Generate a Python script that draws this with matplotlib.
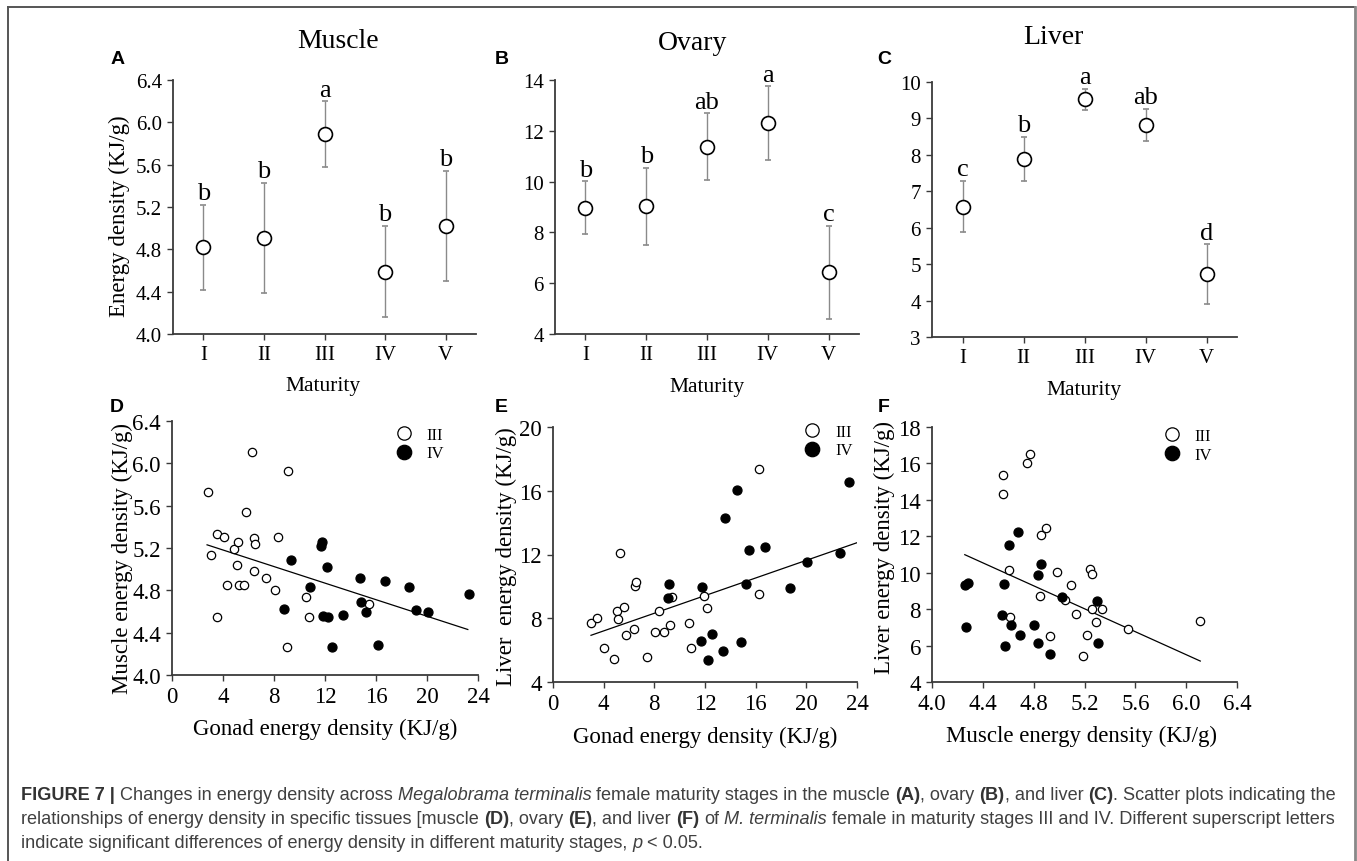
import numpy as np
import matplotlib.pyplot as plt
from matplotlib.lines import Line2D

plt.rcParams['font.family'] = 'Liberation Serif'

W, H = 1357, 862

#========================================================
# data
stages = ['I', 'II', 'III', 'IV', 'V']

muscle_mean = [4.82, 4.91, 5.89, 4.59, 5.02]
muscle_err = [0.40, 0.52, 0.31, 0.43, 0.52]
muscle_sig = ['b', 'b', 'a', 'b', 'b']

ovary_mean = [8.97, 9.03, 11.37, 12.31, 6.43]
ovary_err = [1.04, 1.52, 1.32, 1.45, 1.83]
ovary_sig = ['b', 'b', 'ab', 'a', 'c']

liver_mean = [6.58, 7.88, 9.52, 8.83, 4.72]
liver_err = [0.71, 0.61, 0.30, 0.44, 0.82]
liver_sig = ['c', 'b', 'a', 'ab', 'd']

# D: gonad vs muscle
d_iii_x = [2.80, 3.03, 3.53, 3.56, 4.05, 4.31, 4.86, 5.18, 5.07, 5.25, 5.65, 5.80,
           6.25, 6.41, 6.51, 6.46, 7.37, 8.05, 8.34, 9.12, 9.05, 10.51, 10.75, 15.45]
d_iii_y = [5.73, 5.13, 5.33, 4.55, 5.30, 4.85, 5.19, 5.26, 5.04, 4.85, 4.85, 5.54,
           6.11, 5.29, 5.24, 4.98, 4.92, 4.80, 5.30, 5.93, 4.26, 4.74, 4.55, 4.67]
d_iv_x = [8.76, 9.36, 10.82, 11.76, 11.66, 12.13, 11.84, 12.26, 12.55, 13.39, 14.77,
          14.80, 15.19, 16.18, 16.68, 18.61, 19.16, 20.05, 23.3]
d_iv_y = [4.62, 5.09, 4.83, 5.26, 5.22, 5.02, 4.56, 4.55, 4.26, 4.57, 4.92,
          4.69, 4.60, 4.28, 4.89, 4.83, 4.61, 4.60, 4.77]
d_fit_x = [2.75, 23.2]
d_fit_y = [5.23, 4.43]

# E: gonad vs liver
e_iii_x = [3.00, 3.50, 4.03, 4.84, 5.05, 5.13, 5.29, 5.61, 5.79, 6.39, 6.45, 6.53,
           7.39, 8.03, 8.34, 8.76, 9.24, 9.37, 10.76, 10.87, 11.89, 12.16, 16.26, 16.24]
e_iii_y = [7.72, 8.04, 6.13, 5.46, 8.48, 7.97, 12.07, 8.73, 6.93, 7.33, 10.04, 10.27,
           5.55, 7.14, 8.43, 7.14, 7.58, 9.35, 7.68, 6.13, 9.40, 8.64, 9.50, 17.34]
e_iv_x = [9.05, 9.16, 11.76, 11.66, 12.26, 12.55, 13.39, 13.55, 14.50, 14.84, 15.21,
          15.45, 16.71, 18.68, 20.08, 22.68, 23.37]
e_iv_y = [9.29, 10.13, 9.94, 6.57, 5.38, 7.01, 5.95, 14.31, 16.03, 6.53, 10.17,
          12.26, 12.49, 9.90, 11.53, 12.07, 16.53]
e_fit_x = [3.0, 24.0]
e_fit_y = [6.93, 12.74]

# F: muscle vs liver
f_iii_x = [4.558, 4.558, 4.747, 4.771, 4.608, 4.613, 4.850, 4.858, 4.900, 4.929, 4.982,
           5.050, 5.092, 5.134, 5.189, 5.218, 5.245, 5.261, 5.258, 5.289, 5.337, 5.542, 6.111]
f_iii_y = [15.38, 14.34, 16.01, 16.54, 10.17, 7.59, 8.72, 12.05, 12.47, 6.51, 10.04,
           8.48, 9.34, 7.72, 5.45, 6.58, 10.22, 9.95, 7.99, 7.31, 8.03, 6.93, 7.33]
f_iv_x = [4.261, 4.284, 4.268, 4.566, 4.550, 4.576, 4.605, 4.621, 4.679, 4.692, 4.800,
          4.834, 4.834, 4.858, 4.932, 5.021, 5.300, 5.308]
f_iv_y = [9.31, 9.44, 7.02, 9.40, 7.66, 5.96, 11.52, 7.11, 12.25, 6.58, 7.13,
          9.89, 6.12, 10.50, 5.56, 8.65, 8.43, 6.12]
f_fit_x = [4.258, 6.111]
f_fit_y = [10.99, 5.15]
#========================================================

fig = plt.figure(figsize=(W / 100, H / 100), dpi=100)


def fy(py):
    return 1 - py / H


def add_ax(l, t, r, b):
    ax = fig.add_axes([l / W, 1 - b / H, (r - l) / W, (b - t) / H])
    for s in ['top', 'right']:
        ax.spines[s].set_visible(False)
    for s in ['left', 'bottom']:
        ax.spines[s].set_color('#3a3a3a')
        ax.spines[s].set_linewidth(1.3)
    ax.tick_params(direction='out', length=4.5, width=1, color='#3a3a3a')
    return ax


def ftext(px, py, s, **kw):
    fig.text(px / W, fy(py), s, ha='center', va='center', **kw)


# ---- top row: mean +/- error by maturity stage
top = [
    (muscle_mean, muscle_err, muscle_sig, (173, 81, 476, 335), (4.0, 6.4), np.arange(4.0, 6.41, 0.4), '%.1f'),
    (ovary_mean, ovary_err, ovary_sig, (555, 81, 859, 335), (4, 14), np.arange(4, 15, 2), '%d'),
    (liver_mean, liver_err, liver_sig, (932, 83, 1237, 338), (3, 10), np.arange(3, 11, 1), '%d'),
]
pos = np.arange(1, 6)
for mean, err, sig, box, ylim, yt, fmt in top:
    ax = add_ax(*box)
    ax.errorbar(pos, mean, yerr=err, fmt='o', ms=10, mfc='white', mec='black', mew=1.2,
                ecolor='#8a8a8a', elinewidth=1, capsize=2, capthick=1)
    for x, m, e, s in zip(pos, mean, err, sig):
        ax.annotate(s, (x, m + e), xytext=(0, 4), textcoords='offset points',
                    ha='center', va='baseline', fontsize=19)
    ax.set_xlim(0.5, 5.5)
    ax.set_ylim(*ylim)
    ax.set_xticks(pos)
    ax.set_xticklabels(stages, fontsize=15)
    ax.set_yticks(yt)
    ax.set_yticklabels([fmt % v for v in yt], fontsize=15)

ftext(338, 42, 'Muscle', fontsize=20)
ftext(693, 43, 'Ovary', fontsize=20)
ftext(1053, 38, 'Liver', fontsize=20)
for px, py in [(323, 387), (707, 388), (1084, 390)]:
    ftext(px, py, 'Maturity', fontsize=15.5)
ftext(119, 216, 'Energy density (KJ/g)', fontsize=16.5, rotation=90)

# ---- bottom row: scatter plots
bottom = [
    (d_iii_x, d_iii_y, d_iv_x, d_iv_y, d_fit_x, d_fit_y, (172, 422, 478, 676),
     (0, 24), (4.0, 6.4), np.arange(0, 25, 4), np.arange(4.0, 6.41, 0.4), '%d', '%.1f', (396, 428, 0.8)),
    (e_iii_x, e_iii_y, e_iv_x, e_iv_y, e_fit_x, e_fit_y, (553, 428, 857, 683),
     (0, 24), (4, 20), np.arange(0, 25, 4), np.arange(4, 21, 4), '%d', '%d', (804, 425, 0.875)),
    (f_iii_x, f_iii_y, f_iv_x, f_iv_y, f_fit_x, f_fit_y, (932, 428, 1237, 683),
     (4.0, 6.4), (4, 18), np.arange(4.0, 6.41, 0.4), np.arange(4, 19, 2), '%.1f', '%d', (1164, 429, 0.8)),
]
for x3, y3, x4, y4, lx, ly, box, xlim, ylim, xt, yt, xf, yf, leg in bottom:
    ax = add_ax(*box)
    ax.plot(lx, ly, color='black', lw=0.9, zorder=1)
    ax.plot(x3, y3, 'o', ms=6, mfc='white', mec='black', mew=0.9, label='III', zorder=3)
    ax.plot(x4, y4, 'o', ms=6.5, mfc='black', mec='black', mew=0.9, label='IV', zorder=3)
    ax.set_xlim(*xlim)
    ax.set_ylim(*ylim)
    ax.set_xticks(xt)
    ax.set_xticklabels([xf % v for v in xt], fontsize=16.5)
    ax.set_yticks(yt)
    ax.set_yticklabels([yf % v for v in yt], fontsize=16.5)
    lx0, ly0, pad = leg
    ax.legend(loc='upper left', bbox_to_anchor=(lx0 / W, fy(ly0)), bbox_transform=fig.transFigure,
              frameon=False, fontsize=12, handlelength=1.0, handletextpad=pad,
              labelspacing=0.15, borderpad=0, borderaxespad=0, markerscale=1.6)

ftext(122, 559, 'Muscle energy density (KJ/g)', fontsize=16.5, rotation=90)
ftext(506, 557, 'Liver  energy density (KJ/g)', fontsize=16.5, rotation=90)
ftext(884, 548, 'Liver energy density (KJ/g)', fontsize=16.5, rotation=90)
ftext(325, 729, 'Gonad energy density (KJ/g)', fontsize=16.5)
ftext(705, 737, 'Gonad energy density (KJ/g)', fontsize=16.5)
ftext(1082, 736, 'Muscle energy density (KJ/g)', fontsize=16.5)

# panel letters
for s, px, py in [('A', 118, 60), ('B', 502, 60), ('C', 884, 60),
                  ('D', 117, 407), ('E', 501, 407), ('F', 884, 407)]:
    ftext(px, py, s, fontsize=14, family='Liberation Sans', weight='bold')

# frame around the figure
fig.add_artist(Line2D([8 / W, 8 / W], [0, fy(8)], transform=fig.transFigure, color='#555555', lw=1.4))
fig.add_artist(Line2D([8 / W, 1355 / W], [fy(8), fy(8)], transform=fig.transFigure, color='#555555', lw=1.4))
fig.add_artist(Line2D([1355 / W, 1355 / W], [0, fy(8)], transform=fig.transFigure, color='#888888', lw=2))

# ---- caption, drawn run by run
renderer = fig.canvas.get_renderer()
cap_lines = [
    [('FIGURE 7 | ', 'b'), ('Changes in energy density across ', 'n'), ('Megalobrama terminalis', 'i'),
     (' female maturity stages in the muscle ', 'n'), ('(A)', 'b'), (', ovary ', 'n'), ('(B)', 'b'),
     (', and liver ', 'n'), ('(C)', 'b'), ('. Scatter plots indicating the', 'n')],
    [('relationships of energy density in specific tissues [muscle ', 'n'), ('(D)', 'b'), (', ovary ', 'n'),
     ('(E)', 'b'), (', and liver ', 'n'), ('(F)', 'b'), (' of ', 'n'), ('M. terminalis', 'i'),
     (' female in maturity stages III and IV. Different superscript letters', 'n')],
    [('indicate significant differences of energy density in different maturity stages, ', 'n'),
     ('p', 'i'), (' < 0.05.', 'n')],
]


def cap_props(style, size):
    p = dict(family='Liberation Sans', size=size, color='#404040')
    if style == 'b':
        p['weight'] = 'bold'
        p['color'] = '#333333'
    if style == 'i':
        p['style'] = 'italic'
    return p


def run_width(s, style, size):
    t = fig.text(0, 0, s, **cap_props(style, size))
    w = t.get_window_extent(renderer).width
    t.remove()
    return w


def draw_line(runs, x0, y, size, draw=True):
    sp = run_width('a a', 'n', size) - run_width('aa', 'n', size)
    x = x0
    for s, style in runs:
        core = s.strip(' ')
        x += (len(s) - len(s.lstrip(' '))) * sp
        if core:
            if draw:
                fig.text(x / W, fy(y), core, ha='left', va='baseline', **cap_props(style, size))
            x += run_width(core, style, size)
        x += (len(s) - len(s.rstrip(' '))) * sp
    return x


w12 = draw_line(cap_lines[0], 0, 0, 12, draw=False)
cap_size = 12 * 1315 / w12
for runs, base in zip(cap_lines, [800, 824, 848]):
    draw_line(runs, 21, base, cap_size)

fig.savefig('out.png', dpi=100)
